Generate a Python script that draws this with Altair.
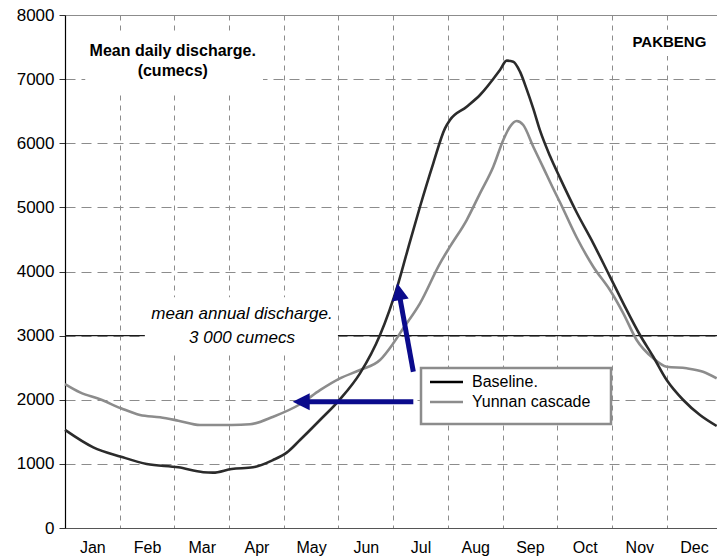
import json
import math

import altair as alt
import pandas as pd

# ---- data -----------------------------------------------------------------
months = ["Jan", "Feb", "Mar", "Apr", "May", "Jun",
          "Jul", "Aug", "Sep", "Oct", "Nov", "Dec"]

# position along the year in months (0 = 1 Jan), discharge in cumecs
baseline_t = [0.0, 0.517, 1.024, 1.494, 2.071, 2.528, 2.706, 3.048, 3.437,
              3.803, 4.053, 4.296, 4.662, 5.027, 5.393, 5.759, 6.093, 6.247,
              6.490, 6.733, 6.947, 7.038, 7.344, 7.587, 7.952, 8.075, 8.196,
              8.318, 8.441, 8.561, 8.684, 8.867, 9.049, 9.355, 9.658, 9.963,
              10.207, 10.512, 10.755, 11.0, 11.303, 11.609, 11.914]
baseline_v = [1530, 1258, 1112, 998, 946, 870, 863, 920, 946,
              1060, 1175, 1372, 1684, 2007, 2412, 3010, 3816, 4284,
              5010, 5687, 6233, 6363, 6570, 6752, 7142, 7288, 7272,
              7116, 6840, 6540, 6200, 5800, 5460, 4920, 4440, 3919,
              3504, 3010, 2671, 2308, 1996, 1762, 1591]

yunnan_t = [0.0, 0.274, 0.640, 1.024, 1.371, 1.737, 2.071, 2.468, 3.048,
            3.382, 3.808, 4.296, 4.662, 5.027, 5.393, 5.759, 6.002, 6.185,
            6.490, 6.856, 7.038, 7.344, 7.587, 7.830, 8.013, 8.135, 8.258,
            8.378, 8.561, 8.744, 8.927, 9.049, 9.355, 9.658, 9.963, 10.207,
            10.451, 10.755, 11.0, 11.366, 11.664, 11.914]
yunnan_v = [2245, 2116, 2007, 1867, 1762, 1726, 1674, 1606, 1606,
            1617, 1736, 1930, 2150, 2334, 2464, 2620, 2880, 3114,
            3504, 4128, 4387, 4803, 5219, 5635, 6051, 6258, 6347,
            6285, 5946, 5620, 5290, 5080, 4530, 4075, 3711, 3348,
            2932, 2646, 2516, 2490, 2438, 2334]

series_names = ["Baseline.", "Yunnan cascade"]
series_colors = ["#2b2b2b", "#8c8c8c"]

mean_annual = 3000

# ---- geometry ---------------------------------------------------------------
W, H = 652, 513
X_MAX, Y_MAX = 11.92, 8000
PX_X = W / X_MAX          # pixels per month
PX_Y = H / Y_MAX          # pixels per cumec
FONT = "Liberation Sans"
NAVY = "#0b0b8c"


def to_t(px):
    """horizontal pixel offset from the plot's left edge -> months"""
    return px / PX_X


def to_v(py):
    """vertical pixel offset from the plot's top edge -> cumecs"""
    return Y_MAX - py / PX_Y


x_scale = alt.Scale(domain=[0, X_MAX], nice=False, zero=False)
y_scale = alt.Scale(domain=[0, Y_MAX], nice=False)

x_axis = alt.Axis(
    values=list(range(12)),
    labelExpr=json.dumps(months) + "[datum.value]",
    labelOffset=PX_X / 2, labelPadding=11, labelFlush=False,
    labelOverlap=False, labelFontSize=16, labelFont=FONT, labelColor="#000",
    ticks=False, tickSize=0, domainColor="#555", domainWidth=1.2,
    grid=True, gridDash=[5, 5], gridWidth=1,
    gridColor={"condition": {"test": "datum.value === 0", "value": "transparent"},
               "value": "#8c8c8c"},
    title=None,
)
y_axis = alt.Axis(
    values=list(range(0, 8001, 1000)), format="d",
    labelFontSize=17, labelFont=FONT, labelColor="#000", labelPadding=5,
    tickSize=6, tickColor="#333", domainColor="#000", domainWidth=1.2,
    grid=True, gridWidth=1,
    gridDash={"condition": {"test": "datum.value === 8000", "value": []},
              "value": [10, 6]},
    gridColor={"condition": {"test": "datum.value === 0", "value": "transparent"},
               "value": "#8c8c8c"},
    title=None,
)


def X(field, **kw):
    return alt.X(field, type="quantitative", scale=x_scale, axis=x_axis, **kw)


def Y(field, **kw):
    return alt.Y(field, type="quantitative", scale=y_scale, axis=y_axis, **kw)


color = alt.Color("series:N",
                  scale=alt.Scale(domain=series_names, range=series_colors),
                  legend=None)

# ---- curves -----------------------------------------------------------------
base_df = pd.DataFrame({"t": baseline_t, "v": baseline_v, "series": series_names[0]})
yun_df = pd.DataFrame({"t": yunnan_t, "v": yunnan_v, "series": series_names[1]})

line_yun = alt.Chart(yun_df).mark_line(strokeWidth=2.6, interpolate="monotone").encode(
    x=X("t"), y=Y("v"), color=color)
line_base = alt.Chart(base_df).mark_line(strokeWidth=2.6, interpolate="monotone").encode(
    x=X("t"), y=Y("v"), color=color)

mean_rule = alt.Chart(pd.DataFrame({"v": [mean_annual]})).mark_rule(
    color="#1a1a1a", strokeWidth=1.3).encode(y=Y("v"))

# ---- annotations ------------------------------------------------------------
# white backing behind the annotation texts
boxes = pd.DataFrame({
    "x0": [0.37, 1.46, 10.29], "x1": [3.62, 4.99, 11.83],
    "y0": [6800, 2745, 7360], "y1": [7690, 3600, 7770],
})
backing = alt.Chart(boxes).mark_rect(fill="white", stroke=None).encode(
    x=X("x0"), x2="x1", y=Y("y0"), y2="y1")

title_df = pd.DataFrame({"t": [1.97, 1.97], "v": [7360, 7049],
                         "label": ["Mean daily discharge.", "(cumecs)"]})
title_txt = alt.Chart(title_df).mark_text(
    font=FONT, fontSize=16, fontWeight="bold", baseline="alphabetic",
    align="center", color="#000").encode(x=X("t"), y=Y("v"), text="label:N")

site_txt = alt.Chart(pd.DataFrame({"t": [11.05], "v": [7506], "label": ["PAKBENG"]})).mark_text(
    font=FONT, fontSize=15, fontWeight="bold", baseline="alphabetic",
    align="center", color="#000").encode(x=X("t"), y=Y("v"), text="label:N")

mean_df = pd.DataFrame({"t": [3.236, 3.236], "v": [3259, 2890],
                        "label": ["mean annual discharge.", "3 000 cumecs"]})
mean_txt = alt.Chart(mean_df).mark_text(
    font=FONT, fontSize=17, fontStyle="italic", baseline="alphabetic",
    align="center", color="#000").encode(x=X("t"), y=Y("v"), text="label:N")

# ---- key (framed box with line samples) -------------------------------------
KEY_L, KEY_R, KEY_T, KEY_B = 356, 546, 353, 409   # pixels inside the plot
SAMPLE_L, SAMPLE_R, LABEL_X = 365, 398, 407
ROW_Y = [367, 387]

key_box = alt.Chart(pd.DataFrame({
    "x0": [to_t(KEY_L)], "x1": [to_t(KEY_R)], "y0": [to_v(KEY_B)], "y1": [to_v(KEY_T)],
})).mark_rect(fill="white", stroke="#8c8c8c", strokeWidth=2.5).encode(
    x=X("x0"), x2="x1", y=Y("y0"), y2="y1")

key_df = pd.DataFrame({
    "series": series_names,
    "x0": [to_t(SAMPLE_L)] * 2, "x1": [to_t(SAMPLE_R)] * 2,
    "lx": [to_t(LABEL_X)] * 2,
    "y": [to_v(r) for r in ROW_Y],
})
key_lines = alt.Chart(key_df).mark_rule(strokeWidth=2.5).encode(
    x=X("x0"), x2="x1", y=Y("y"),
    color=alt.Color("series:N", scale=alt.Scale(domain=series_names,
                                                range=["#000000", "#8c8c8c"]),
                    legend=None))
key_text = alt.Chart(key_df).mark_text(
    font=FONT, fontSize=16, align="left", baseline="middle", color="#000").encode(
    x=X("lx"), y=Y("y"), text="series:N")

# ---- arrows from the key towards the curves ---------------------------------
arrow_tail_t = [6.368, 6.368]
arrow_tail_v = [1970, 2437]
arrow_tip_t = [4.163, 6.075]
arrow_tip_v = [1970, 3816]
HEAD = 17

rows = []
for tt, tv, ht, hv in zip(arrow_tail_t, arrow_tail_v, arrow_tip_t, arrow_tip_v):
    dx = (ht - tt) * PX_X
    dy = -(hv - tv) * PX_Y
    length = math.hypot(dx, dy)
    ux, uy = dx / length, dy / length
    cx_px = dx - ux * HEAD / 2
    cy_px = dy - uy * HEAD / 2
    rows.append({
        "t0": tt, "v0": tv,
        "hc_t": tt + cx_px / PX_X, "hc_v": tv - cy_px / PX_Y,
        "angle": (math.degrees(math.atan2(dx, -dy)) + 360) % 360,
    })
arrows = pd.DataFrame(rows)

shafts = alt.Chart(arrows).mark_rule(color=NAVY, strokeWidth=5, strokeCap="butt").encode(
    x=X("t0"), y=Y("v0"), x2="hc_t", y2="hc_v")
heads = alt.Chart(arrows).mark_point(
    shape="M0,-1L1,1L-1,1Z", filled=True, color=NAVY, opacity=1, size=HEAD * HEAD,
    strokeWidth=0).encode(x=X("hc_t"), y=Y("hc_v"), angle=alt.Angle("angle:Q", scale=None))

chart = alt.layer(
    mean_rule, backing, title_txt, site_txt, mean_txt,
    line_yun, line_base, key_box, key_lines, key_text, shafts, heads,
).resolve_scale(color="independent").properties(
    width=W, height=H,
    autosize=alt.AutoSizeParams(type="none"),
    padding={"left": 65, "top": 15, "right": 0, "bottom": 28},
).configure_view(stroke=None)

chart.save("out.html", embed_options={"renderer": "svg", "actions": False})
